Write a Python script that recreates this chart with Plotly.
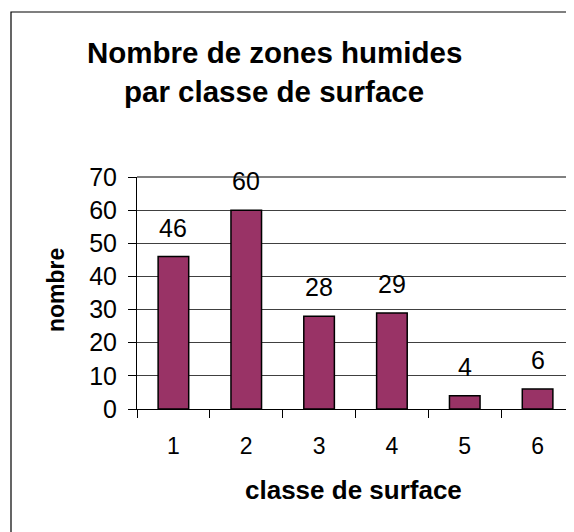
import plotly.graph_objects as go

categories = ["1", "2", "3", "4", "5", "6"]
values = [46, 60, 28, 29, 4, 6]
y_ticks = [0, 10, 20, 30, 40, 50, 60, 70]

title_lines = ["Nombre de zones humides", "par classe de surface"]
x_title = "classe de surface"
y_title = "nombre"

FONT = "Liberation Sans, Arial, sans-serif"
BAR_COLOR = "#993366"

# page has an 8px body margin; design in screen pixels and shift
OFF = 8
W, H = 574 - OFF, 532 - OFF
L, R, T, B = 137 - OFF, 8 - OFF, 177 - OFF, 123
pw = W - L - R
ph = H - T - B

def px_x(p):
    return (p - OFF - L) / pw

def px_y(p):
    return (H - B - (p - OFF)) / ph

fig = go.Figure()
fig.add_trace(go.Bar(
    x=categories, y=values,
    marker=dict(color=BAR_COLOR, line=dict(color="black", width=1.5)),
    width=0.42,
    hoverinfo="skip",
))

annotations = []
for i, v in enumerate(values):
    annotations.append(dict(
        x=i, y=v, xref="x", yref="y", text=str(v), showarrow=False,
        yanchor="bottom", yshift=13,
        font=dict(family=FONT, size=25, color="black"),
    ))

for line, yc in zip(title_lines, [53, 92]):
    annotations.append(dict(
        x=px_x(274), y=px_y(yc), xref="paper", yref="paper",
        text="<b>" + line + "</b>", showarrow=False,
        xanchor="center", yanchor="middle",
        font=dict(family=FONT, size=29.5, color="black"),
    ))
annotations.append(dict(
    x=px_x(353), y=px_y(490), xref="paper", yref="paper",
    text="<b>" + x_title + "</b>", showarrow=False,
    xanchor="center", yanchor="middle",
    font=dict(family=FONT, size=26, color="black"),
))
annotations.append(dict(
    x=px_x(56), y=px_y(290), xref="paper", yref="paper",
    text="<b>" + y_title + "</b>", showarrow=False, textangle=-90,
    xanchor="center", yanchor="middle",
    font=dict(family=FONT, size=23, color="black"),
))

shapes = [
    # outer chart frame
    dict(type="rect", xref="paper", yref="paper",
         x0=px_x(11), x1=px_x(600), y0=px_y(570), y1=px_y(12),
         line=dict(color="black", width=1.2), layer="below"),
    # plot area top and right border
    dict(type="line", xref="paper", yref="paper", x0=0, x1=1, y0=1, y1=1,
         line=dict(color="#808080", width=2)),
    dict(type="line", xref="paper", yref="paper", x0=1, x1=1, y0=0, y1=1,
         line=dict(color="#808080", width=2.5)),
]

fig.update_layout(
    width=W, height=H,
    margin=dict(l=L, r=R, t=T, b=B, pad=0),
    paper_bgcolor="white", plot_bgcolor="white",
    showlegend=False,
    annotations=annotations,
    shapes=shapes,
    xaxis=dict(
        type="category", tickson="boundaries",
        ticks="outside", ticklen=8, tickwidth=1, tickcolor="black",
        showline=True, linecolor="black", linewidth=1,
        showgrid=False, zeroline=False,
        tickfont=dict(family=FONT, size=23, color="black"),
        ticklabelstandoff=16,
        range=[-0.5, 5.5],
    ),
    yaxis=dict(
        range=[0, 70], tickvals=y_ticks,
        ticks="outside", ticklen=8, tickwidth=1, tickcolor="black",
        showline=True, linecolor="black", linewidth=1,
        showgrid=True, gridcolor="#404040", gridwidth=1,
        zeroline=False,
        tickfont=dict(family=FONT, size=25, color="black"),
        ticklabelstandoff=6,
    ),
)

fig.write_html("out.html")
